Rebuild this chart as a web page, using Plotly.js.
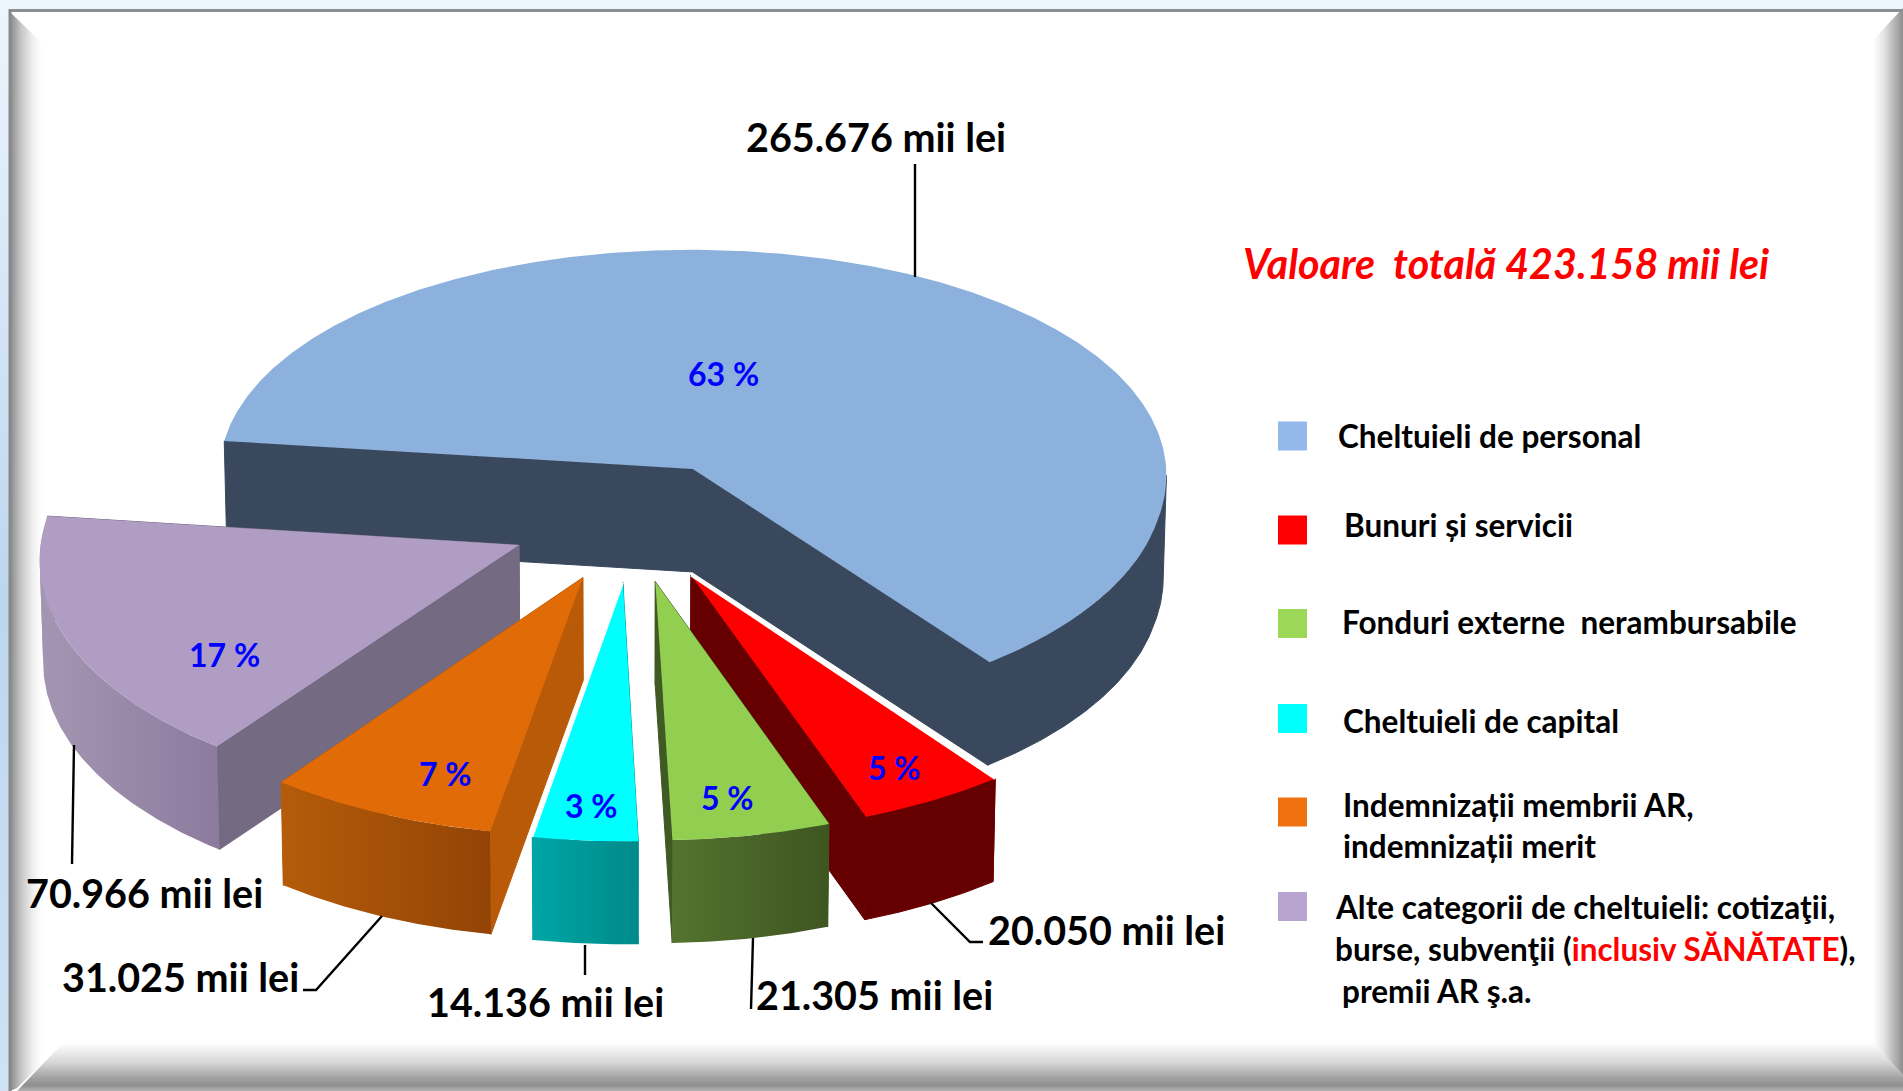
<!DOCTYPE html>
<html><head><meta charset="utf-8">
<script src="https://cdn.plot.ly/plotly-3.0.1.min.js"></script>
<style>html,body{margin:0;padding:0;background:#fff;overflow:hidden}#chart{width:1903px;height:1091px}</style>
</head><body><div id="chart"></div>
<script>
// ---- data ----
const categories = ["Cheltuieli de personal","Bunuri și servicii","Fonduri externe  nerambursabile","Cheltuieli de capital","Indemnizații membrii AR, indemnizații merit","Alte categorii de cheltuieli"];
const values = [265676, 20050, 21305, 14136, 31025, 70966];
const percentLabels = ["63 %","5 %","5 %","3 %","7 %","17 %"];
const unit = "mii lei";

// ---- styles ----
const topColors = ["#8cb1dd","#ff0000","#92cf50","#00ffff","#e16b07","#b09dc4"];
const edgeColors = ["#39485c","#660000","#3f5a22","#009a9a","#b85a08","#746a82"];
const wallGradients = [["#39485c","#39485c"],["#660000","#660000"],["#54732f","#3e5520"],["#00a6a6","#008a8a"],["#b45c0a","#934405"],["#a496b3","#8c7b9e"]];
const swatchColors = ["#95b8ea","#ff0000","#9bd858","#00ffff","#f0710f","#b7a5d0"];
const FONT = "Lato, Carlito, Calibri, sans-serif";

// ---- projection of the tilted pie onto the page axes ----
const firstAngle = 277, explode = 0.257, depth = 103, baseShrink = 0.994;
const cx = 632, cy = 521, Rx = 476, Ry = 237, kxNear = 0.05, kxFar = 0.025, ky = 0.056;
const project = (x, y) => [cx + Rx*x/(1+(y<0?kxNear:kxFar)*y), cy - Ry*y/(1+ky*y)];
const base = p => [cx + (p[0]-cx)*baseShrink, p[1] + depth];
const rad = d => d*Math.PI/180;
const total = values.reduce((a,b)=>a+b,0);

const traces = [];
function poly(pts, opt){
  const t = {type:"scatter", mode:"lines", x:pts.map(p=>p[0]).concat(pts[0][0]), y:pts.map(p=>p[1]).concat(pts[0][1]),
    fill:"toself", line:{width:0}, hoverinfo:"skip", showlegend:false};
  traces.push(Object.assign(t,opt||{}));
}
function solid(pts,color){ poly(pts,{fillcolor:color,line:{color:color,width:1}}); }
function grad(pts, type, stops, start, stop){
  const fg = {type:type, colorscale:stops};
  if(start!==undefined){ fg.start=start; fg.stop=stop; }
  poly(pts,{fillgradient:fg, fillcolor:"rgba(0,0,0,0)"});
}

// page backdrop and bevelled frame
grad([[0,0],[1903,0],[1903,1091],[0,1091]],"vertical",[[0,"#d0e2f4"],[0.45,"#bcd6ee"],[1,"#eef5fc"]]);
poly([[9,9],[1903,9],[1903,1091],[9,1091]],{fillcolor:"#ffffff"});
grad([[10,12],[45,46],[63,1043],[17,1088],[10,1091]],"horizontal",
  [[0,"#8a8a8a"],[0.06,"#9a9a9a"],[0.2,"#c4c4c4"],[0.42,"#eeeeee"],[0.6,"#ffffff"],[1,"#ffffff"]]);
grad([[17,1091],[63,1043],[1873,1043],[1903,1075],[1903,1091]],"vertical",
  [[0,"#b4b4b4"],[0.12,"#8e8e8e"],[0.3,"#a6a6a6"],[0.6,"#d8d8d8"],[1,"#ffffff"]]);
grad([[1873,1043],[1873,40],[1903,8],[1903,1075]],"horizontal",
  [[0,"#ffffff"],[0.35,"#e6e6e6"],[0.75,"#b0b0b0"],[1,"#8e8e8e"]]);

// pie slices, computed from the values
const slices = [];
let acc = firstAngle;
values.forEach((v,i)=>{
  const span = v/total*360, a0 = acc, a1 = acc+span, mid = (a0+a1)/2;
  acc = a1;
  const ox = explode*Math.sin(rad(mid)), oy = explode*Math.cos(rad(mid));
  const apex = project(ox,oy), arc = [];
  const n = Math.ceil(span*2);
  for(let j=0;j<=n;j++){
    const a = a0 + span*j/n;
    arc.push(project(ox+Math.sin(rad(a)), oy+Math.cos(rad(a))));
  }
  slices[i] = {apex, arc};
});
function drawSlice(i){
  const {apex,arc} = slices[i], first = arc[0], last = arc[arc.length-1];
  solid([apex,first,base(first),base(apex)],edgeColors[i]);
  solid([apex,last,base(last),base(apex)],edgeColors[i]);
  // outer wall, split where the rim turns back so it follows the silhouette
  const xs = arc.map(p=>p[0]);
  const cuts = [...new Set([0, xs.indexOf(Math.min(...xs)), xs.indexOf(Math.max(...xs)), arc.length-1])].sort((a,b)=>a-b);
  const g = wallGradients[i];
  const lo = Math.min(...xs), hi = Math.max(...xs);
  for(let c=0;c<cuts.length-1;c++){
    const part = arc.slice(cuts[c],cuts[c+1]+1);
    if(part.length<2) continue;
    // the far side of the rim is hidden behind the top face
    if(part.reduce((s,p)=>s+p[1],0)/part.length < 400) continue;
    const wall = part.concat(part.map(base).reverse());
    if(g[0]===g[1]) solid(wall,g[0]);
    else grad(wall,"horizontal",[[0,g[0]],[1,g[1]]],lo,hi);
  }
  poly([apex].concat(arc),{fillcolor:topColors[i]});
}
[0,5,4,1,2,3].forEach(drawSlice);
// thin light seams of the reference
traces.push({type:"scatter",mode:"lines",x:[slices[1].apex[0],slices[1].arc[0][0]],y:[slices[1].apex[1],slices[1].arc[0][1]],line:{color:"#ffffff",width:2.5},hoverinfo:"skip",showlegend:false});
const cyanEnd = slices[3].arc[slices[3].arc.length-1];
traces.push({type:"scatter",mode:"lines",x:[slices[3].apex[0],cyanEnd[0]],y:[slices[3].apex[1],cyanEnd[1]],line:{color:"#ffffff",width:2},hoverinfo:"skip",showlegend:false});

// legend swatches
const swatchY = [436,530,623.5,718.5,812,906.5];
traces.push({type:"scatter",mode:"markers",x:swatchY.map(()=>1292.5),y:swatchY,text:categories,hoverinfo:"text",
  marker:{symbol:"square",size:29,color:swatchColors,line:{width:0}},showlegend:false});

// text
const fmt = v => String(v).replace(/\B(?=(\d{3})+$)/g,".");
const ann = [];
function label(x,y,text,size,color,anchor,extra){
  ann.push(Object.assign({x,y,xref:"x",yref:"y",text,showarrow:false,xanchor:anchor||"center",yanchor:"middle",align:"left",
    font:{family:FONT,size,color,weight:700}},extra||{}));
}
const valueSpots = [[876,136],[1106,929],[874,994],[545,1001],[180,976],[144,892]];
values.forEach((v,i)=>label(valueSpots[i][0],valueSpots[i][1],fmt(v)+" "+unit,39.5,"#000000"));
const pctSpots = [[723,373],[894,767],[727,797.5],[591,805],[445,773],[224.5,654]];
percentLabels.forEach((t,i)=>label(pctSpots[i][0],pctSpots[i][1],t,32,"#0000ff"));
label(1241,263,"<i>Valoare  totală "+fmt(total)+" "+unit+"</i>",41.2,"#ff0000","left");
const L = 31.5, black = "#000000";
label(1336,436,"Cheltuieli de personal",L,black,"left");
label(1342,525,"Bunuri și servicii",L,black,"left");
label(1340,622,"Fonduri externe  nerambursabile",L,black,"left");
label(1341,721,"Cheltuieli de capital",L,black,"left");
label(1341,805,"Indemnizații membrii AR,",L,black,"left");
label(1341,846,"indemnizații merit",L,black,"left");
label(1333,907,"Alte categorii de cheltuieli: cotizaţii,",L,black,"left");
label(1333,949,'burse, subvenţii (<span style="color:#ff0000">inclusiv SĂNĂTATE</span>),',L,black,"left");
label(1340,991,"premii AR ş.a.",L,black,"left");

// leader lines
const leaders = [
  [[915,164],[915,277]],
  [[74,745],[72,864]],
  [[382,916],[316,990],[303,990]],
  [[585,945],[585,975]],
  [[753,938],[751,1009]],
  [[931,903],[970,942],[983,942]]
];
const shapes = leaders.map(pts=>({type:"path",xref:"x",yref:"y",layer:"above",
  path:"M"+pts.map(p=>p.join(",")).join("L"),line:{color:"#000000",width:2.4}}));
shapes.push({type:"line",xref:"x",yref:"y",x0:9,x1:1903,y0:10.5,y1:10.5,layer:"above",line:{color:"#8a8f92",width:3}});
shapes.push({type:"line",xref:"x",yref:"y",x0:10,x1:10,y0:9,y1:1091,layer:"above",line:{color:"#85898c",width:3}});

Plotly.newPlot("chart",traces,{
  width:1903,height:1091,margin:{l:0,r:0,t:0,b:0,pad:0},paper_bgcolor:"#ffffff",plot_bgcolor:"rgba(0,0,0,0)",
  showlegend:false,hovermode:"closest",
  xaxis:{range:[0,1903],visible:false,fixedrange:true},
  yaxis:{range:[1091,0],visible:false,fixedrange:true},
  annotations:ann,shapes:shapes
},{displayModeBar:false,staticPlot:false});
</script></body></html>
